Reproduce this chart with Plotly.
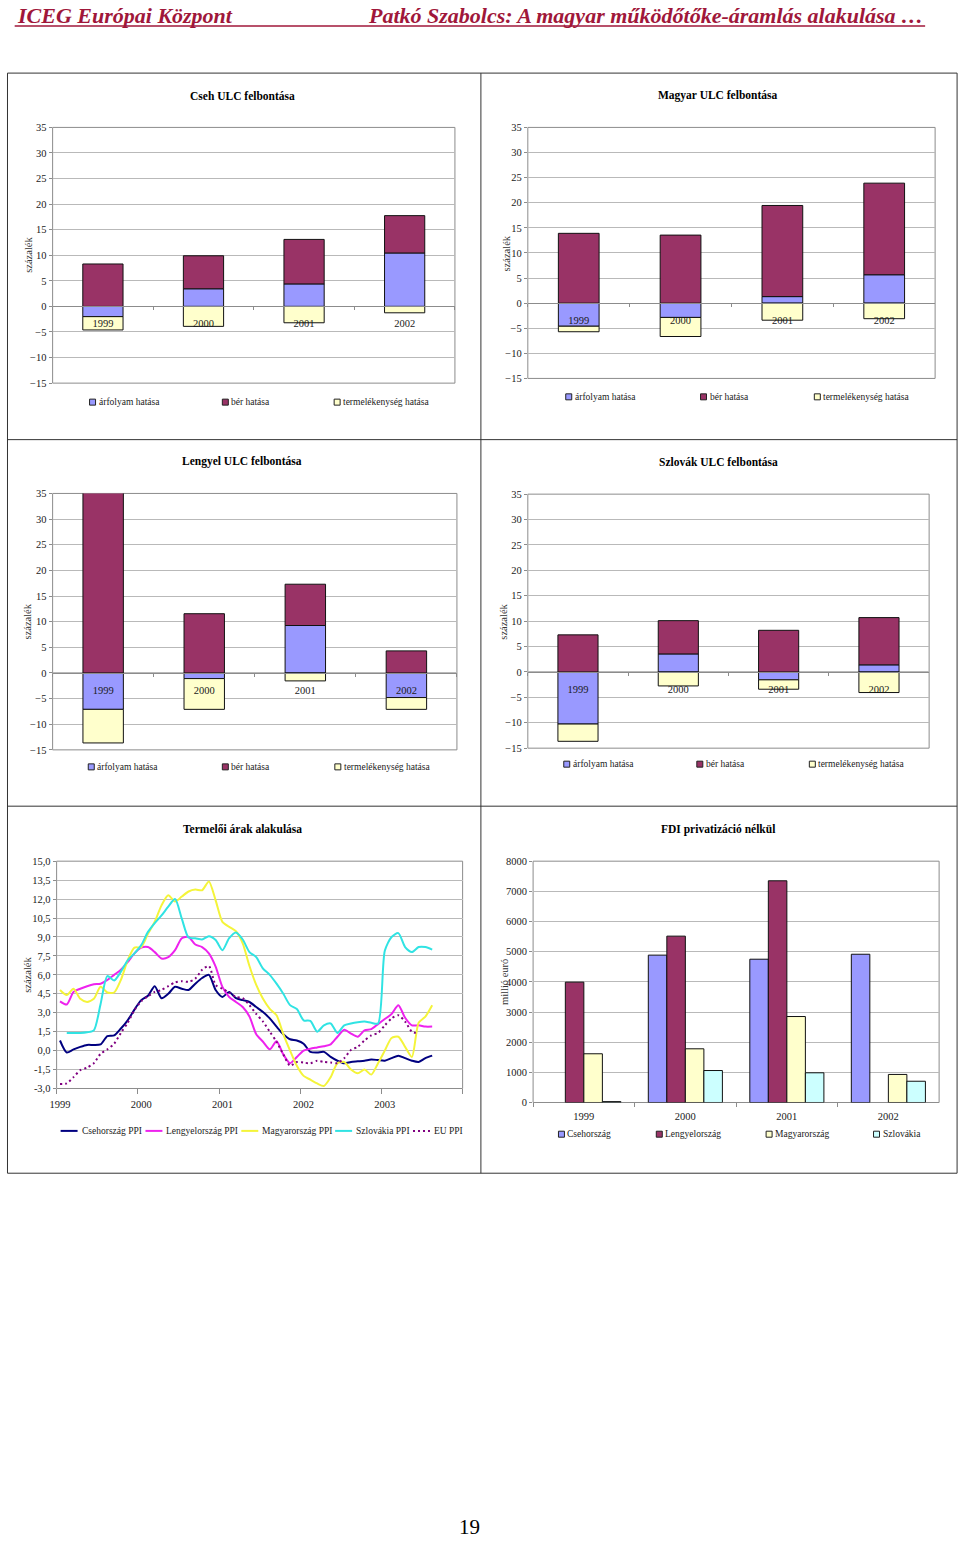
import plotly.graph_objects as go

W, H = 960, 1547

# ---------------- data ----------------
years = ["1999", "2000", "2001", "2002"]
ulc_series = ["árfolyam hatása", "bér hatása", "termelékenység hatása"]

cseh_arfolyam = [-2.0, 3.45, 4.4, 10.45]
cseh_ber = [8.3, 6.45, 8.7, 7.3]
cseh_termelekenyseg = [-2.6, -3.9, -3.2, -1.25]

magyar_arfolyam = [-4.6, -2.85, 1.3, 5.65]
magyar_ber = [13.9, 13.55, 18.15, 18.25]
magyar_termelekenyseg = [-1.1, -3.8, -3.4, -3.1]

lengyel_arfolyam = [-7.1, -1.1, 9.25, -4.8]
lengyel_ber = [35.2, 11.55, 8.05, 4.3]
lengyel_termelekenyseg = [-6.55, -6.0, -1.55, -2.3]

szlovak_arfolyam = [-10.25, 3.55, -1.55, 1.4]
szlovak_ber = [7.3, 6.55, 8.2, 9.3]
szlovak_termelekenyseg = [-3.4, -2.75, -1.85, -4.05]

ppi_years = ["1999", "2000", "2001", "2002", "2003"]
ppi_names = ["Csehország PPI", "Lengyelország PPI", "Magyarország PPI", "Szlovákia PPI", "EU PPI"]
ppi_tick_values = [15.0, 13.5, 12.0, 10.5, 9.0, 7.5, 6.0, 4.5, 3.0, 1.5, 0.0, -1.5, -3.0]

# monthly values, Jan 1999 onwards
cseh_ppi = [0.8, -0.15, 0.1, 0.3, 0.45, 0.45, 0.5, 1.15, 1.2, 1.75, 2.4, 3.25,
            4.0, 4.35, 5.1, 4.15, 4.5, 5.05, 4.9, 4.8, 5.3, 5.75, 6.0, 4.8,
            4.25, 4.65, 4.15, 4.0, 3.85, 3.45, 3.05, 2.55, 1.9, 1.3, 0.9, 0.8,
            0.55, -0.1, -0.15, -0.1, -0.5, -0.8, -1.0, -0.9, -0.85, -0.8, -0.7, -0.75,
            -0.8, -0.6, -0.4, -0.6, -0.8, -0.9, -0.6, -0.4]
lengyel_ppi = [3.9, 3.65, 4.65, 4.9, 5.1, 5.25, 5.3, 5.6, 6.0, 6.4, 7.0, 7.7,
               8.15, 8.2, 7.8, 7.3, 7.4, 7.95, 8.9, 9.0, 8.4, 8.2, 7.7, 6.65,
               5.05, 4.25, 3.85, 3.45, 2.7, 1.3, 0.7, 0.1, 0.75, -0.3, -1.0, -0.5,
               0.0, 0.15, 0.25, 0.35, 0.5, 1.1, 1.65, 1.35, 1.1, 1.6, 1.7, 2.1,
               2.5, 2.9, 3.6, 2.6, 2.0, 2.0, 1.9, 1.9]
magyar_ppi = [4.8, 4.4, 4.9, 4.1, 3.85, 4.1, 5.05, 4.6, 4.6, 5.6, 7.15, 8.15,
              8.2, 9.25, 10.2, 11.5, 12.3, 11.8, 12.2, 12.6, 12.75, 12.7, 13.4, 11.9,
              10.2, 9.8, 9.45, 8.5, 6.7, 5.2, 4.1, 3.3, 2.8, 1.3, 0.0, -1.2,
              -2.0, -2.3, -2.6, -2.8, -2.1, -1.0, -0.9, -1.5, -1.8, -1.5, -1.9, -1.0,
              0.0, 1.0, 1.1, 0.3, -0.5, 2.2, 2.7, 3.6]
szlovak_ppi = [None, 1.4, 1.4, 1.4, 1.45, 1.6, 3.7, 5.9, 5.55, 6.25, 7.15, 7.7,
               8.35, 9.4, 10.1, 10.7, 11.4, 12.0, 10.45, 8.95, 8.9, 8.8, 9.05, 8.75,
               7.95, 8.9, 9.35, 8.8, 7.8, 7.4, 6.5, 6.0, 5.3, 4.5, 3.6, 3.3,
               2.4, 2.35, 1.5, 2.0, 2.15, 1.4, 2.0, 2.15, 2.25, 2.3, 2.2, 2.15,
               7.9, 9.0, 9.3, 8.2, 7.8, 8.2, 8.2, 8.0]
eu_ppi = [-2.65, -2.6, -2.1, -1.55, -1.35, -1.0, -0.25, 0.1, 0.55, 1.4, 2.2, 3.2,
          3.9, 4.3, 4.65, 4.8, 5.1, 5.4, 5.5, 5.45, 5.7, 6.4, 6.7, 5.2,
          4.9, 4.6, 4.25, 4.15, 3.6, 2.9, 2.3, 1.5, 0.7, -0.3, -1.2, -0.9,
          -0.95, -1.0, -0.8, -0.9, -0.95, -1.0, -0.6, 0.05, 0.3, 0.8, 1.2, 1.4,
          2.0, 2.55, 2.8, 2.3, 1.5, 1.35]

fdi_countries = ["Csehország", "Lengyelország", "Magyarország", "Szlovákia"]
fdi_cseh = [None, 4885, 4750, 4915]
fdi_lengyel = [3990, 5515, 7350, None]
fdi_magyar = [1615, 1780, 2850, 930]
fdi_szlovak = [30, 1060, 985, 705]
fdi_tick_values = [0, 1000, 2000, 3000, 4000, 5000, 6000, 7000, 8000]

# ---------------- styles ----------------
FONT = "Liberation Serif, Times New Roman, serif"
TXT = "#1a1a1a"
GRID = "#b9b9b9"
AXC = "#8c8c8c"
ULC_COLORS = ["#9999FF", "#993366", "#FFFFCC"]
FDI_COLORS = ["#9999FF", "#993366", "#FFFFCC", "#CCFFFF"]
PPI_COLORS = ["#000080", "#EE22EE", "#F4F43A", "#30E3E3", "#800080"]
HEAD = "#A0173A"
TICK_SIZE = 10.5

# page-pixel -> paper conversion (small calibration for the capture)
CX0, CKX = 6.3, 0.9944
CY0, CKY = 4.9, 0.9928


def P(x):
    return max((x - CX0) / CKX, 0.5) / W


def Q(y):
    return 1 - min(max((y - CY0) / CKY, 0.5), H - 0.5) / H


fig = go.Figure()
layout = {}
shapes = []
annotations = []


def ax_names(i):
    return ("x" if i == 1 else f"x{i}", "y" if i == 1 else f"y{i}",
            "xaxis" if i == 1 else f"xaxis{i}", "yaxis" if i == 1 else f"yaxis{i}")


def border(i):
    xa, ya, _, _ = ax_names(i)
    shapes.append(dict(type="rect", xref=f"{xa} domain", yref=f"{ya} domain",
                       x0=0, x1=1, y0=0, y1=1, line=dict(color=AXC, width=1), layer="below"))


def title(text, x, y):
    annotations.append(dict(text=f"<b>{text}</b>", x=P(x), y=Q(y), xref="paper", yref="paper",
                            showarrow=False, xanchor="center", yanchor="middle",
                            font=dict(family=FONT, size=11.5, color="#000")))


def vlabel(text, x, y):
    annotations.append(dict(text=text, x=P(x), y=Q(y), xref="paper", yref="paper",
                            showarrow=False, textangle=-90, xanchor="center", yanchor="middle",
                            font=dict(family=FONT, size=10.5, color="#333")))


def legend_box(x0, yc, color, label, size=6):
    shapes.append(dict(type="rect", xref="paper", yref="paper",
                       x0=P(x0), x1=P(x0 + size), y0=Q(yc + size / 2), y1=Q(yc - size / 2),
                       fillcolor=color, line=dict(color="#222", width=1)))
    annotations.append(dict(text=label, x=P(x0 + size + 1), y=Q(yc), xref="paper", yref="paper",
                            showarrow=False, xanchor="left", yanchor="middle",
                            font=dict(family=FONT, size=9.5, color=TXT)))


def legend_line(x0, x1, yc, color, label, dash="solid"):
    shapes.append(dict(type="line", xref="paper", yref="paper",
                       x0=P(x0), x1=P(x1), y0=Q(yc), y1=Q(yc),
                       line=dict(color=color, width=2, dash=dash)))
    annotations.append(dict(text=label, x=P(x1 + 2), y=Q(yc), xref="paper", yref="paper",
                            showarrow=False, xanchor="left", yanchor="middle",
                            font=dict(family=FONT, size=9.5, color=TXT)))


ULC_RANGE = [-15, 35]


def ulc_panel(i, series, xd, yd, ttl, tpos, lpos, legx, legy):
    xa, ya, xk, yk = ax_names(i)
    for vals, col, name in zip(series, ULC_COLORS, ulc_series):
        fig.add_trace(go.Bar(x=years, y=vals, name=name, width=0.4,
                             marker=dict(color=col, line=dict(color="#111", width=1)),
                             xaxis=xa, yaxis=ya, showlegend=False))
    y0, y1 = Q(yd[1]), Q(yd[0])
    pos = y0 + (0 - ULC_RANGE[0]) / (ULC_RANGE[1] - ULC_RANGE[0]) * (y1 - y0)
    layout[xk] = dict(domain=[P(xd[0]), P(xd[1])], anchor="free", position=pos,
                      type="category", showline=True, linecolor=AXC, linewidth=1,
                      ticks="outside", tickson="boundaries", ticklen=3, tickcolor=AXC,
                      showgrid=False, zeroline=False, ticklabelstandoff=7,
                      tickfont=dict(family=FONT, size=TICK_SIZE, color=TXT), fixedrange=True)
    layout[yk] = dict(domain=[y0, y1], anchor=xa, range=ULC_RANGE, dtick=5, tick0=0,
                      showgrid=True, gridcolor=GRID, gridwidth=1, zeroline=False,
                      showline=False, ticks="outside", ticklen=3, tickcolor=AXC,
                      tickfont=dict(family=FONT, size=TICK_SIZE, color=TXT))
    border(i)
    title(ttl, *tpos)
    vlabel("százalék", *lpos)
    for lx, col, name in zip(legx, ULC_COLORS, ulc_series):
        legend_box(lx, legy, col, name)


ulc_panel(1, [cseh_arfolyam, cseh_ber, cseh_termelekenyseg], (52, 455), (127.3, 383),
          "Cseh ULC felbontása", (242, 95.7), (27, 255), [89, 222, 334], 402)
ulc_panel(2, [magyar_arfolyam, magyar_ber, magyar_termelekenyseg], (528, 936), (127.3, 378.3),
          "Magyar ULC felbontása", (719, 95.7), (506.5, 253), [566, 701, 815], 396.7)
ulc_panel(3, [lengyel_arfolyam, lengyel_ber, lengyel_termelekenyseg], (52, 457), (493.3, 749.7),
          "Lengyel ULC felbontása", (242, 461.7), (27, 621.7), [87.7, 222, 334.7], 766.7)
ulc_panel(4, [szlovak_arfolyam, szlovak_ber, szlovak_termelekenyseg], (528, 930), (494, 748),
          "Szlovák ULC felbontása", (719, 461.7), (504, 621.7), [564, 697.3, 810], 764)

# ---------------- PPI lines ----------------
xa, ya, xk, yk = ax_names(5)
ppi_series = [cseh_ppi, lengyel_ppi, magyar_ppi, szlovak_ppi, eu_ppi]
for vals, col, name in zip(ppi_series, PPI_COLORS, ppi_names):
    fig.add_trace(go.Scatter(x=list(range(len(vals))), y=vals, mode="lines", name=name,
                             line=dict(color=col, width=2, shape="spline", smoothing=0.7,
                                       dash="2px,3px" if name == "EU PPI" else None),
                             connectgaps=False, xaxis=xa, yaxis=ya, showlegend=False))
layout[xk] = dict(domain=[P(56), P(462.7)], anchor=ya, range=[-0.5, 59.5],
                  tickvals=[12 * k for k in range(len(ppi_years))], ticktext=ppi_years,
                  ticks="", showgrid=False, zeroline=False, showline=False,
                  ticklabelstandoff=8,
                  minor=dict(tickvals=[12 * k - 0.5 for k in range(len(ppi_years) + 1)],
                             ticks="outside", ticklen=5, tickcolor=AXC, showgrid=False),
                  tickfont=dict(family=FONT, size=TICK_SIZE, color=TXT))
layout[yk] = dict(domain=[Q(1088.3), Q(861)], anchor=xa, range=[-3, 15],
                  tickvals=ppi_tick_values,
                  ticktext=[f"{v:.1f}".replace(".", ",") for v in ppi_tick_values],
                  showgrid=True, gridcolor=GRID, zeroline=False, showline=False,
                  ticks="outside", ticklen=3, tickcolor=AXC,
                  tickfont=dict(family=FONT, size=TICK_SIZE, color=TXT))
border(5)
title("Termelői árak alakulása", 242, 829)
vlabel("százalék", 27, 975)
for (lx0, lx1), col, name in zip([(60, 77), (145, 162), (241, 258), (335, 352), (413, 430)],
                                 PPI_COLORS, ppi_names):
    legend_line(lx0, lx1, 1130.7, col, name, dash="2px,3px" if name == "EU PPI" else "solid")

# ---------------- FDI bars ----------------
xa, ya, xk, yk = ax_names(6)
for vals, col, name in zip([fdi_cseh, fdi_lengyel, fdi_magyar, fdi_szlovak], FDI_COLORS, fdi_countries):
    fig.add_trace(go.Bar(x=years, y=vals, name=name, offsetgroup=name,
                         marker=dict(color=col, line=dict(color="#111", width=1)),
                         xaxis=xa, yaxis=ya, showlegend=False))
layout[xk] = dict(domain=[P(533.3), P(940)], anchor=ya, type="category",
                  showline=False, ticks="outside", tickson="boundaries", ticklen=4,
                  tickcolor=AXC, showgrid=False, zeroline=False, ticklabelstandoff=6,
                  tickfont=dict(family=FONT, size=TICK_SIZE, color=TXT))
layout[yk] = dict(domain=[Q(1102.3), Q(861)], anchor=xa, range=[0, 8000],
                  tickvals=fdi_tick_values, ticktext=[str(v) for v in fdi_tick_values],
                  showgrid=True, gridcolor=GRID, zeroline=False, showline=False,
                  ticks="outside", ticklen=3, tickcolor=AXC,
                  tickfont=dict(family=FONT, size=TICK_SIZE, color=TXT))
border(6)
title("FDI privatizáció nélkül", 719, 829)
vlabel("millió euró", 504, 982)
for lx, col, name in zip([558.7, 656.7, 766.7, 874.3], FDI_COLORS, fdi_countries):
    legend_box(lx, 1134, col, name)

# ---------------- page frame ----------------
frame = dict(color="#333", width=1)
shapes.append(dict(type="rect", xref="paper", yref="paper", x0=P(4), x1=P(958), y0=Q(1173), y1=Q(73),
                   line=frame))
shapes.append(dict(type="line", xref="paper", yref="paper", x0=P(481), x1=P(481), y0=Q(1173), y1=Q(73),
                   line=frame))
for yy in (439.5, 806):
    shapes.append(dict(type="line", xref="paper", yref="paper", x0=P(4), x1=P(958), y0=Q(yy), y1=Q(yy),
                       line=frame))

# header
annotations.append(dict(text="<b><i>ICEG Európai Központ</i></b>", x=P(14), y=Q(15.5), xref="paper",
                        yref="paper", showarrow=False, xanchor="left", yanchor="middle",
                        font=dict(family=FONT, size=22, color=HEAD)))
annotations.append(dict(text="<b><i>Patkó Szabolcs: A magyar működőtőke-áramlás alakulása …</i></b>",
                        x=P(926), y=Q(15.5), xref="paper", yref="paper", showarrow=False,
                        xanchor="right", yanchor="middle", font=dict(family=FONT, size=22, color=HEAD)))
shapes.append(dict(type="line", xref="paper", yref="paper", x0=P(14), x1=P(926), y0=Q(26), y1=Q(26),
                   line=dict(color=HEAD, width=1.5)))

# page number (kept fully inside the page)
annotations.append(dict(text="19", x=P(470), y=Q(1546), xref="paper", yref="paper", showarrow=False,
                        xanchor="center", yanchor="bottom", font=dict(family=FONT, size=21, color="#000")))

fig.update_layout(width=W, height=H, margin=dict(l=0, r=0, t=0, b=0),
                  paper_bgcolor="white", plot_bgcolor="white",
                  barmode="relative", bargap=0.27, bargroupgap=0,
                  showlegend=False, shapes=shapes, annotations=annotations,
                  font=dict(family=FONT, color=TXT), **layout)

fig.write_html("out.html", config={"displayModeBar": False},
               post_script="document.body.style.margin='0';document.body.style.overflow='hidden';")
